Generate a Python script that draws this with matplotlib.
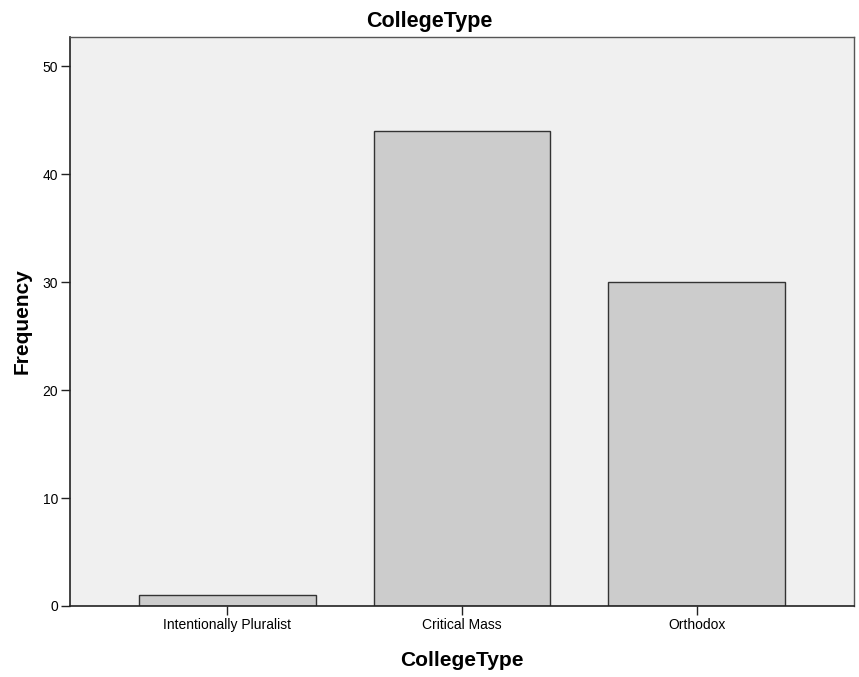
import matplotlib
matplotlib.use('Agg')
import matplotlib.pyplot as plt

# Frequencies per college type
categories = ['Intentionally Pluralist', 'Critical Mass', 'Orthodox']
counts = [1, 44, 30]
yticks = [0, 10, 20, 30, 40, 50]

plt.rcParams['font.family'] = ['Liberation Sans', 'DejaVu Sans']

fig = plt.figure(figsize=(8.59, 6.77), dpi=100)
ax = fig.add_axes([0.0815, 0.1049, 0.9127, 0.8404])
ax.set_facecolor('#f0f0f0')

pos = range(len(categories))
ax.bar(pos, counts, width=0.753, color='#cccccc', edgecolor='#333333', linewidth=1.0, zorder=2)

ax.set_xlim(-0.67, 2.67)
ax.set_ylim(0, 52.7)
ax.set_xticks(list(pos))
ax.set_xticklabels(categories, fontsize=10)
ax.set_yticks(yticks)
ax.set_yticklabels([str(t) for t in yticks], fontsize=10)
ax.tick_params(direction='out', length=6.5, width=1, color='#222222')
ax.tick_params(axis='x', pad=2.5)
ax.tick_params(axis='y', pad=2)

for side in ['left', 'bottom']:
    ax.spines[side].set_color('#222222')
    ax.spines[side].set_linewidth(1.2)
for side in ['top', 'right']:
    ax.spines[side].set_color('#555555')
    ax.spines[side].set_linewidth(1.0)

# title is centred on the whole figure, not the axes
fig.suptitle('CollegeType', x=0.5, y=0.9601, fontsize=15.5, fontweight='bold', va='baseline')
ax.set_xlabel('CollegeType', fontsize=15, fontweight='bold', va='baseline')
ax.xaxis.set_label_coords(0.5, -0.1054)
ax.set_ylabel('Frequency', fontsize=15, fontweight='bold', va='baseline')
ax.yaxis.set_label_coords(-0.0536, 0.5)

fig.savefig('out.png', dpi=100)
